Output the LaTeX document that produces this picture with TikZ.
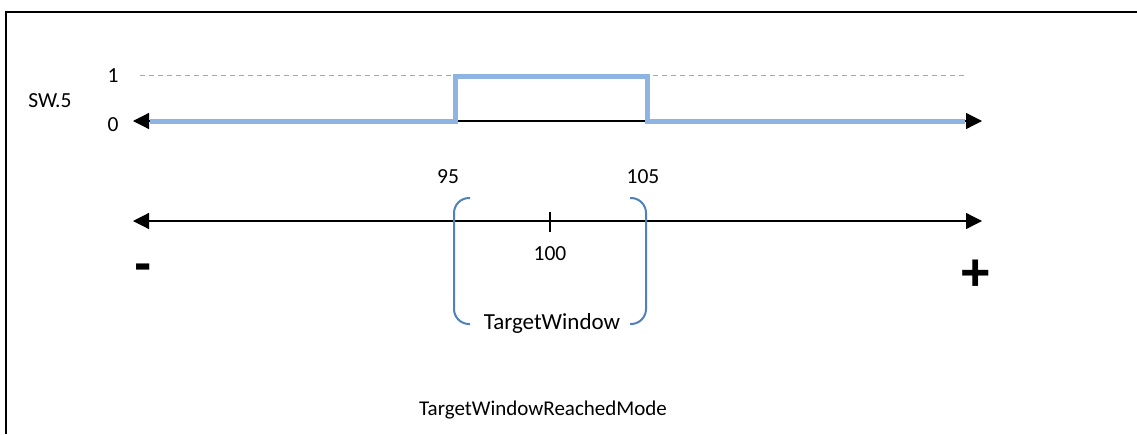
\documentclass[tikz,border=0pt]{standalone}
\usepackage{fontspec}
\setmainfont{Carlito}
\newfontfamily\signfont{Liberation Sans}
\usepackage{tikz}
\usetikzlibrary{arrows.meta}
\definecolor{sigblue}{HTML}{8DB4E2}
\definecolor{winblue}{HTML}{4F81BD}
\tikzstyle{axis} = [line width=1.2pt,{Triangle[length=16pt,width=16pt]}-{Triangle[length=16pt,width=16pt]}]
\tikzstyle{signal} = [line width=5pt,sigblue]
\tikzstyle{level} = [line width=1pt,gray!70,dash pattern=on 5pt off 4pt]
\tikzstyle{bracket} = [line width=2pt,winblue,rounded corners=15pt]

\begin{document}
\begin{tikzpicture}[x=1pt,y=-1pt,every node/.style={font=\fontsize{21.5}{25}\selectfont, inner sep=0pt, anchor=base}]
        \useasboundingbox (0,0) rectangle (1137,434);
        % frame
        \draw[line width=1.5pt] (6,434) -- (6,12) -- (1137,12);

        % Node positions
        \coordinate (sL) at (133,121);
        \coordinate (sR) at (982,121);
        \coordinate (s0) at (150,121);
        \coordinate (s1) at (455,121);
        \coordinate (s2) at (455,76);
        \coordinate (s3) at (647,76);
        \coordinate (s4) at (647,121);
        \coordinate (s5) at (965,121);
        \coordinate (hL) at (140,75);
        \coordinate (hR) at (965,75);
        \coordinate (nL) at (133,221);
        \coordinate (nR) at (982,221);
        \coordinate (tA) at (550,212);
        \coordinate (tB) at (550,232);

        \node (sw) at (50,107) {SW.5};
        \node (one) at (113,82) {1};
        \node (zero) at (113,131) {0};
        \node (lo) at (448,183) {95};
        \node (hi) at (643,183) {105};
        \node (mid) at (550,260) {100};
        \node (minus) at (143,280) {\signfont\fontsize{52}{60}\selectfont\bfseries -};
        \node (plus) at (976,290) {\signfont\fontsize{52}{60}\selectfont\bfseries +};
        \node[font=\fontsize{23}{27}\selectfont] (win) at (552,329) {TargetWindow};
        \node[font=\fontsize{21}{25}\selectfont] (mode) at (543,415) {TargetWindowReachedMode};

        \draw[level] (hL) -- (hR);
        \draw[axis] (sL) -- (sR);
        \draw[signal] (s0) -- (s1) -- (s2) -- (s3) -- (s4) -- (s5);
        \draw[axis] (nL) -- (nR);
        \draw[line width=1.2pt] (tA) -- (tB);

        \draw[bracket] (470,198) -- (454,198) -- (454,324) -- (470,324);
        \draw[bracket] (630,198) -- (646,198) -- (646,324) -- (630,324);
      \end{tikzpicture}
\end{document}
